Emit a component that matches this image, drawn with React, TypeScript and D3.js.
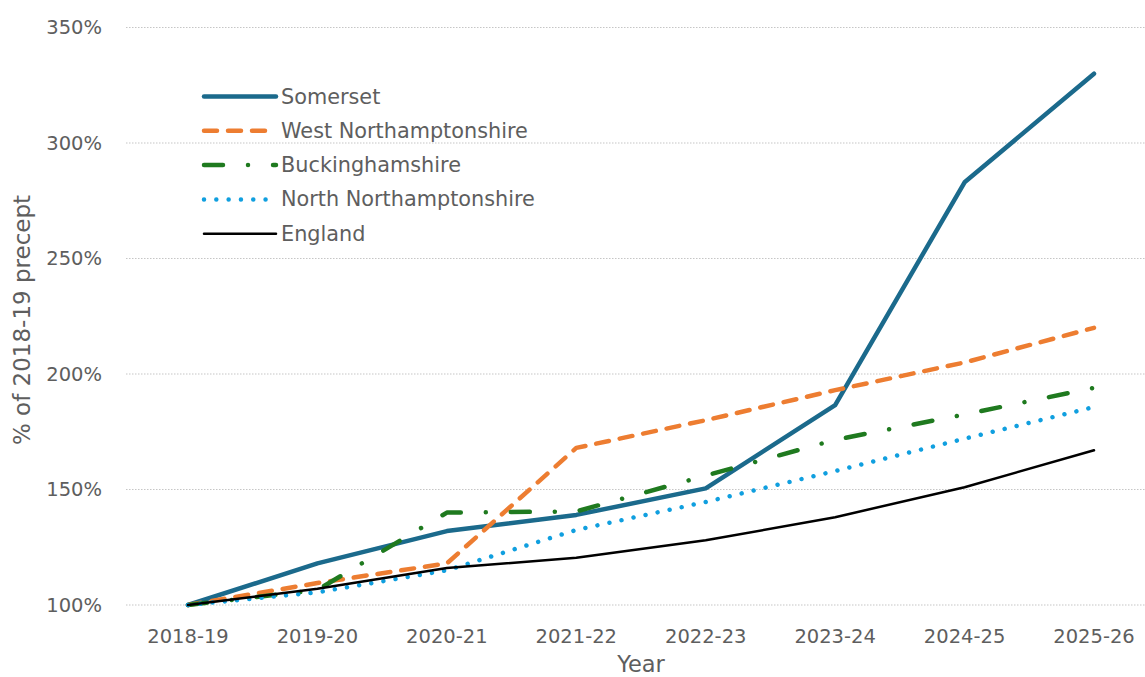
import React from "react";
import * as d3 from "d3";

const categories = ["2018-19", "2019-20", "2020-21", "2021-22", "2022-23", "2023-24", "2024-25", "2025-26"];
const somerset = [1.0, 1.18, 1.32, 1.39, 1.505, 1.865, 2.83, 3.3];
const westNorthants = [1.0, 1.095, 1.18, 1.68, 1.8, 1.93, 2.05, 2.2];
const buckinghamshire = [1.0, 1.065, 1.4, 1.405, 1.56, 1.715, 1.825, 1.94];
const northNorthants = [1.0, 1.055, 1.15, 1.325, 1.446, 1.58, 1.72, 1.857];
const england = [1.0, 1.07, 1.16, 1.205, 1.28, 1.38, 1.51, 1.67];
const yTicks = [1.0, 1.5, 2.0, 2.5, 3.0, 3.5];

const seriesNames = ["Somerset", "West Northamptonshire", "Buckinghamshire", "North Northamptonshire", "England"];
const seriesValues = [somerset, westNorthants, buckinghamshire, northNorthants, england];
const seriesStyles = [
  { color: "#1B6A8C", width: 4.5, dash: null as string | null },
  { color: "#ED7D31", width: 4.5, dash: "13,11" },
  { color: "#1F7A1F", width: 4.5, dash: "19,25,0.01,25" },
  { color: "#109FDF", width: 4.5, dash: "0.01,12.3" },
  { color: "#000000", width: 2.5, dash: null as string | null },
];

const W = 1145;
const H = 677;
const FONT = "'DejaVu Sans', sans-serif";
const TXT = "#5e5e5e";

export default function App() {
  const x = d3.scalePoint<string>().domain(categories).range([188, 1094]);
  const y = d3.scaleLinear().domain([1, 3.5]).range([605, 27.5]);
  const line = d3
    .line<number>()
    .x((_, i) => x(categories[i]) as number)
    .y((d) => y(d));

  const legendX1 = 204;
  const legendX2 = 276;
  const legendY0 = 96.5;
  const legendDy = 34.3;

  return (
    <svg
      width={W}
      height={H}
      style={{ position: "absolute", left: 0, top: 0, background: "#fff" }}
      fontFamily={FONT}
    >
      {/* gridlines */}
      {yTicks.map((t) => (
        <line
          key={t}
          x1={126}
          x2={W}
          y1={y(t)}
          y2={y(t)}
          stroke="#c6c6c6"
          strokeWidth={1.2}
          strokeDasharray="1.5,1.5"
        />
      ))}
      {/* y tick labels */}
      {yTicks.map((t) => (
        <text
          key={"l" + t}
          x={102}
          y={y(t)}
          textAnchor="end"
          dominantBaseline="central"
          fontSize={19.5}
          fill={TXT}
        >
          {d3.format(".0%")(t)}
        </text>
      ))}
      {/* x tick labels */}
      {categories.map((c) => (
        <text key={c} x={x(c)} y={643} textAnchor="middle" fontSize={19.5} fill={TXT}>
          {c}
        </text>
      ))}
      {/* axis titles */}
      <text x={641} y={672} textAnchor="middle" fontSize={22.5} fill={TXT}>
        Year
      </text>
      <text
        transform={`translate(30,320) rotate(-90)`}
        textAnchor="middle"
        fontSize={23}
        fill={TXT}
      >
        % of 2018-19 precept
      </text>
      {/* series */}
      {seriesValues.map((vals, i) => {
        const s = seriesStyles[i];
        return (
          <path
            key={seriesNames[i]}
            d={line(vals) || ""}
            fill="none"
            stroke={s.color}
            strokeWidth={s.width}
            strokeDasharray={s.dash || undefined}
            strokeLinecap="round"
            strokeLinejoin="round"
          />
        );
      })}
      {/* legend */}
      {seriesNames.map((n, i) => {
        const s = seriesStyles[i];
        const ly = legendY0 + i * legendDy;
        return (
          <g key={"lg" + n}>
            <line
              x1={legendX1}
              x2={legendX2}
              y1={ly}
              y2={ly}
              stroke={s.color}
              strokeWidth={s.width}
              strokeDasharray={s.dash || undefined}
              strokeLinecap="round"
            />
            <text x={281} y={ly} dominantBaseline="central" fontSize={20.8} fill={TXT}>
              {n}
            </text>
          </g>
        );
      })}
    </svg>
  );
}
